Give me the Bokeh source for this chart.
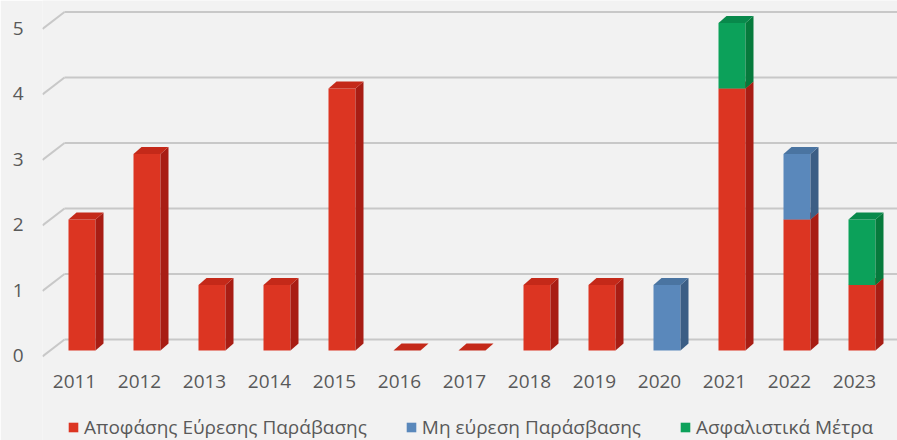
from bokeh.plotting import figure
from bokeh.models import Range1d, LinearAxis, FixedTicker, Legend, LegendItem
from bokeh.core.properties import value
from bokeh.embed import file_html
from bokeh.resources import INLINE

# ---- data ----
years = ["2011", "2012", "2013", "2014", "2015", "2016", "2017",
         "2018", "2019", "2020", "2021", "2022", "2023"]
violation = [2, 3, 1, 1, 4, 0, 0, 1, 1, 0, 4, 2, 1]
no_violation = [0, 0, 0, 0, 0, 0, 0, 0, 0, 1, 0, 1, 0]
interim = [0, 0, 0, 0, 0, 0, 0, 0, 0, 0, 1, 0, 1]
series_names = ["Αποφάσης Εύρεσης Παράβασης", "Μη εύρεση Παράσβασης", "Ασφαλιστικά Μέτρα"]
y_ticks = [0, 1, 2, 3, 4, 5]

# ---- style ----
FRONT = ["#dc3522", "#5a88bb", "#0ca15a"]
SIDE = ["#a81d14", "#3c5e85", "#067a3c"]
TOP = ["#c42919", "#4a74a1", "#08894b"]
BG = "#f2f2f2"
GRID = "#c8c8c8"
TXT = "#595959"
FONT = "Open Sans"

W, H = 897, 440
PX_X = 65.0     # pixels per category
PX_Y = 65.5     # pixels per unit value
BW = 27 / PX_X  # front face width
DX = 8 / PX_X   # depth offset x
DY = 7 / PX_Y   # depth offset y
BACK_DY = 11 / PX_Y
WALL_X0 = -4 / PX_X
FLOOR_DX = 22 / PX_X
FLOOR_DY = 17 / PX_Y
LABEL_DX = 6 / PX_X
LABEL_Y = -31 / PX_Y

FR_L = 42
x0, x1 = (FR_L - 68) / PX_X, (W - 68) / PX_X
y0, y1 = (350 - H) / PX_Y, 350 / PX_Y

p = figure(width=W, height=H, x_range=Range1d(x0, x1), y_range=Range1d(y0, y1),
           output_backend="svg", toolbar_location=None,
           x_axis_location=None, y_axis_location=None,
           min_border_left=FR_L, min_border_right=0, min_border_top=0, min_border_bottom=0)
p.background_fill_color = BG
p.border_fill_color = BG
p.outline_line_color = None
p.xgrid.visible = False
p.ygrid.visible = False

# ---- back wall gridlines with floor diagonals ----
for v in y_ticks:
    yb = v + BACK_DY
    p.line([WALL_X0, x1 + 1], [yb, yb], line_color=GRID, line_width=2)
    p.line([WALL_X0 - FLOOR_DX, WALL_X0], [yb - FLOOR_DY, yb], line_color=GRID, line_width=2)

# ---- 3D stacked bars ----
n = len(years)
series = [violation, no_violation, interim]
totals = [sum(s[i] for s in series) for i in range(n)]
base = [0] * n
legend_items = []
for k, vals in enumerate(series):
    L, R, B, T = [], [], [], []
    sx, sy, tx, ty = [], [], [], []
    for i in range(n):
        b = base[i]
        t = b + vals[i]
        l = i
        r = i + BW
        if vals[i] > 0:
            L.append(l); R.append(r); B.append(b); T.append(t)
            sx.append([r, r + DX, r + DX, r]); sy.append([b, b + DY, t + DY, t])
        if vals[i] > 0 or (totals[i] == 0 and k == 0):
            tx.append([l, r, r + DX, l + DX]); ty.append([t, t, t + DY, t + DY])
    front = p.quad(left=L, right=R, bottom=B, top=T, fill_color=FRONT[k], line_color=None)
    p.patches(sx, sy, fill_color=SIDE[k], line_color=None)
    p.patches(tx, ty, fill_color=TOP[k], line_color=None)
    legend_items.append(LegendItem(label=series_names[k], renderers=[front]))
    base = [base[i] + vals[i] for i in range(n)]

# ---- category labels on the front floor edge ----
p.text(x=[i + LABEL_DX for i in range(n)], y=[LABEL_Y] * n, text=years,
       text_align="center", text_baseline="middle", text_color=TXT,
       text_font=value(FONT), text_font_size="19px")

# ---- value axis ----
p.extra_y_ranges = {"lab": Range1d(y0 + 0.08, y1 + 0.08)}
yaxis = LinearAxis(y_range_name="lab", ticker=FixedTicker(ticks=y_ticks))
yaxis.axis_line_color = None
yaxis.major_tick_line_color = None
yaxis.minor_tick_line_color = None
yaxis.major_tick_in = 0
yaxis.major_tick_out = 0
yaxis.major_label_standoff = 19
yaxis.major_label_text_font = FONT
yaxis.major_label_text_font_size = "19px"
yaxis.major_label_text_color = TXT
p.add_layout(yaxis, "left")

# ---- legend ----
legend = Legend(items=legend_items, orientation="horizontal", location=(67 - FR_L, 0),
                glyph_width=12, glyph_height=12, label_standoff=5, spacing=38,
                padding=0, margin=0, border_line_color=None, background_fill_alpha=0,
                label_text_font=FONT, label_text_font_size="19px", label_text_color=TXT)
p.add_layout(legend, "center")

open("out.html", "w").write(file_html(p, INLINE))
